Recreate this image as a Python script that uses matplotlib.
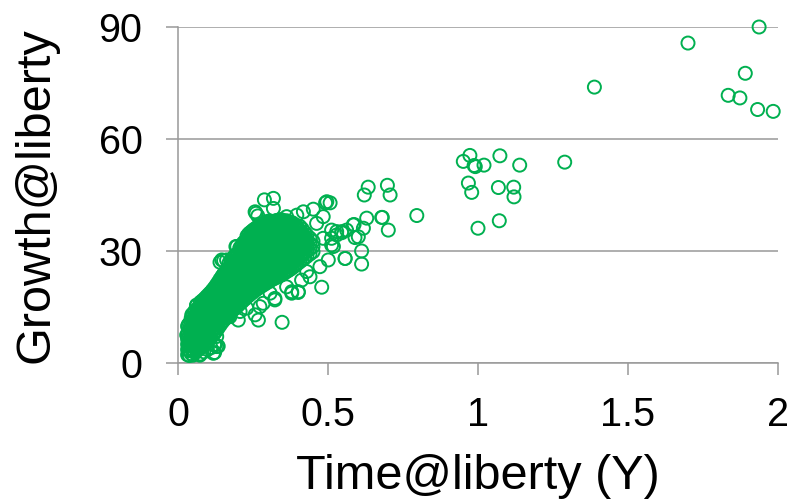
import matplotlib
matplotlib.use("Agg")
import matplotlib.pyplot as plt
import numpy as np

plt.rcParams['font.family'] = ['Liberation Sans', 'DejaVu Sans']

# ---- data ----
# dense core: columns of points (x value, list of y values)
core_cols = [
    (0.032, [2.2, 3.6, 5.0, 6.4, 7.6, 9.8]),
    (0.038, [2.0, 3.3, 4.7, 6.1, 7.5, 8.8, 10.6]),
    (0.044, [2.5, 3.9, 5.3, 6.6, 8.0, 9.4, 10.9, 12.0]),
    (0.050, [2.1, 3.4, 4.8, 6.2, 7.5, 8.9, 10.3, 11.7, 13.2]),
    (0.056, [2.8, 4.2, 5.6, 7.0, 8.3, 9.7, 11.1, 12.5, 13.9]),
    (0.062, [3.2, 4.6, 6.0, 7.4, 8.8, 10.1, 11.5, 12.9, 14.3, 15.4]),
    (0.068, [3.6, 5.0, 6.4, 7.8, 9.2, 10.6, 12.0, 13.4, 14.8]),
    (0.074, [2.4, 4.0, 5.4, 6.8, 8.2, 9.6, 11.0, 12.4, 13.8, 15.2, 16.2]),
    (0.080, [4.4, 5.8, 7.2, 8.6, 10.0, 11.4, 12.8, 14.2, 15.6, 16.6]),
    (0.086, [3.0, 4.8, 6.2, 7.6, 9.0, 10.4, 11.8, 13.2, 14.6, 16.0, 17.0]),
    (0.092, [5.3, 6.7, 8.1, 9.5, 10.9, 12.3, 13.7, 15.1, 16.5, 17.5]),
    (0.098, [3.6, 5.7, 7.1, 8.5, 9.9, 11.3, 12.7, 14.1, 15.5, 16.9, 18.0]),
    (0.104, [6.2, 7.6, 9.0, 10.4, 11.8, 13.2, 14.6, 16.0, 17.4, 18.5]),
    (0.110, [4.1, 6.8, 8.2, 9.6, 11.0, 12.4, 13.8, 15.2, 16.6, 18.0, 19.0]),
    (0.116, [7.4, 8.8, 10.2, 11.6, 13.0, 14.4, 15.8, 17.2, 18.6, 19.6]),
    (0.122, [2.8, 5.0, 8.0, 9.4, 10.8, 12.2, 13.6, 15.0, 16.4, 17.8, 19.2, 20.2]),
    (0.128, [8.7, 10.1, 11.5, 12.9, 14.3, 15.7, 17.1, 18.5, 19.9, 20.9]),
    (0.134, [4.5, 9.4, 10.8, 12.2, 13.6, 15.0, 16.4, 17.8, 19.2, 20.6, 21.6]),
    (0.140, [10.1, 11.5, 12.9, 14.3, 15.7, 17.1, 18.5, 19.9, 21.3, 22.4, 27.0]),
    (0.146, [10.8, 12.2, 13.6, 15.0, 16.4, 17.8, 19.2, 20.6, 22.0, 23.1]),
    (0.152, [11.4, 12.8, 14.2, 15.6, 17.0, 18.4, 19.8, 21.2, 22.6, 23.8, 27.4]),
    (0.158, [12.0, 13.4, 14.8, 16.2, 17.6, 19.0, 20.4, 21.8, 23.2, 24.4]),
    (0.164, [12.6, 14.0, 15.4, 16.8, 18.2, 19.6, 21.0, 22.4, 23.8, 25.0]),
    (0.170, [13.1, 14.5, 15.9, 17.3, 18.7, 20.1, 21.5, 22.9, 24.3, 25.6, 26.8]),
    (0.176, [13.6, 15.0, 16.4, 17.8, 19.2, 20.6, 22.0, 23.4, 24.8, 26.2, 27.4]),
    (0.182, [14.1, 15.5, 16.9, 18.3, 19.7, 21.1, 22.5, 23.9, 25.3, 26.7, 28.0]),
    (0.188, [14.6, 16.0, 17.4, 18.8, 20.2, 21.6, 23.0, 24.4, 25.8, 27.2, 28.6]),
    (0.194, [15.0, 16.4, 17.8, 19.2, 20.6, 22.0, 23.4, 24.8, 26.2, 27.6, 29.0]),
    (0.200, [15.4, 16.8, 18.2, 19.6, 21.0, 22.4, 23.8, 25.2, 26.6, 28.0, 29.4]),
    (0.206, [15.9, 17.3, 18.7, 20.1, 21.5, 22.9, 24.3, 25.7, 27.1, 28.5, 29.9, 30.8]),
    (0.212, [16.3, 17.7, 19.1, 20.5, 21.9, 23.3, 24.7, 26.1, 27.5, 28.9, 30.3, 31.5]),
    (0.218, [16.8, 18.2, 19.6, 21.0, 22.4, 23.8, 25.2, 26.6, 28.0, 29.4, 30.8, 32.2]),
    (0.224, [17.2, 18.6, 20.0, 21.4, 22.8, 24.2, 25.6, 27.0, 28.4, 29.8, 31.2, 32.6]),
    (0.230, [17.7, 19.1, 20.5, 21.9, 23.3, 24.7, 26.1, 27.5, 28.9, 30.3, 31.7, 33.1, 34.0]),
    (0.236, [18.1, 19.5, 20.9, 22.3, 23.7, 25.1, 26.5, 27.9, 29.3, 30.7, 32.1, 33.5, 34.6]),
    (0.242, [18.5, 19.9, 21.3, 22.7, 24.1, 25.5, 26.9, 28.3, 29.7, 31.1, 32.5, 33.9, 35.0]),
    (0.248, [18.9, 20.3, 21.7, 23.1, 24.5, 25.9, 27.3, 28.7, 30.1, 31.5, 32.9, 34.3, 35.4]),
    (0.254, [19.3, 20.7, 22.1, 23.5, 24.9, 26.3, 27.7, 29.1, 30.5, 31.9, 33.3, 34.7, 35.8]),
    (0.260, [19.6, 21.0, 22.4, 23.8, 25.2, 26.6, 28.0, 29.4, 30.8, 32.2, 33.6, 35.0, 36.1]),
    (0.266, [20.0, 21.4, 22.8, 24.2, 25.6, 27.0, 28.4, 29.8, 31.2, 32.6, 34.0, 35.4, 36.5]),
    (0.272, [20.3, 21.7, 23.1, 24.5, 25.9, 27.3, 28.7, 30.1, 31.5, 32.9, 34.3, 35.7, 36.8]),
    (0.278, [20.6, 22.0, 23.4, 24.8, 26.2, 27.6, 29.0, 30.4, 31.8, 33.2, 34.6, 36.0, 37.0]),
    (0.284, [20.9, 22.3, 23.7, 25.1, 26.5, 27.9, 29.3, 30.7, 32.1, 33.5, 34.9, 36.3, 37.3]),
    (0.290, [21.2, 22.6, 24.0, 25.4, 26.8, 28.2, 29.6, 31.0, 32.4, 33.8, 35.2, 36.6, 37.6]),
    (0.296, [21.5, 22.9, 24.3, 25.7, 27.1, 28.5, 29.9, 31.3, 32.7, 34.1, 35.5, 36.9, 37.8]),
    (0.302, [21.8, 23.2, 24.6, 26.0, 27.4, 28.8, 30.2, 31.6, 33.0, 34.4, 35.8, 37.2, 38.0]),
    (0.308, [22.1, 23.5, 24.9, 26.3, 27.7, 29.1, 30.5, 31.9, 33.3, 34.7, 36.1, 37.5]),
    (0.314, [22.4, 23.8, 25.2, 26.6, 28.0, 29.4, 30.8, 32.2, 33.6, 35.0, 36.4, 37.7]),
    (0.320, [22.6, 24.0, 25.4, 26.8, 28.2, 29.6, 31.0, 32.4, 33.8, 35.2, 36.6, 37.9]),
    (0.326, [22.9, 24.3, 25.7, 27.1, 28.5, 29.9, 31.3, 32.7, 34.1, 35.5, 36.9, 38.1]),
    (0.332, [23.1, 24.5, 25.9, 27.3, 28.7, 30.1, 31.5, 32.9, 34.3, 35.7, 37.1, 38.2]),
    (0.338, [23.4, 24.8, 26.2, 27.6, 29.0, 30.4, 31.8, 33.2, 34.6, 36.0, 37.4, 38.3]),
    (0.344, [23.6, 25.0, 26.4, 27.8, 29.2, 30.6, 32.0, 33.4, 34.8, 36.2, 37.6, 38.4]),
    (0.350, [23.9, 25.3, 26.7, 28.1, 29.5, 30.9, 32.3, 33.7, 35.1, 36.5, 37.9]),
    (0.356, [24.2, 25.6, 27.0, 28.4, 29.8, 31.2, 32.6, 34.0, 35.4, 36.8, 38.0]),
    (0.362, [24.5, 25.9, 27.3, 28.7, 30.1, 31.5, 32.9, 34.3, 35.7, 37.1, 38.1]),
    (0.368, [24.8, 26.2, 27.6, 29.0, 30.4, 31.8, 33.2, 34.6, 36.0, 37.4]),
    (0.374, [25.1, 26.5, 27.9, 29.3, 30.7, 32.1, 33.5, 34.9, 36.3, 37.5]),
    (0.380, [25.5, 26.9, 28.3, 29.7, 31.1, 32.5, 33.9, 35.3, 36.7, 37.6]),
    (0.386, [25.8, 27.2, 28.6, 30.0, 31.4, 32.8, 34.2, 35.6, 36.9]),
    (0.392, [26.2, 27.6, 29.0, 30.4, 31.8, 33.2, 34.6, 36.0, 37.0]),
    (0.398, [26.6, 28.0, 29.4, 30.8, 32.2, 33.6, 35.0, 36.4]),
    (0.406, [27.1, 28.5, 29.9, 31.3, 32.7, 34.1, 35.5, 36.6]),
    (0.414, [27.6, 29.0, 30.4, 31.8, 33.2, 34.6, 35.9]),
    (0.422, [28.1, 29.5, 30.9, 32.3, 33.7, 35.0]),
    (0.430, [28.6, 30.0, 31.4, 32.8, 34.2]),
    (0.440, [29.2, 30.6, 32.0, 33.4]),
    (0.450, [29.8, 31.2, 32.6]),
]

# scattered points around the core and the sparse tail
sparse_x = [
    0.288, 0.318, 0.318, 0.260, 0.193, 0.162, 0.362, 0.418, 0.451, 0.492,
    0.484, 0.396, 0.462, 0.512, 0.529, 0.546, 0.512, 0.484, 0.557, 0.501,
    0.473, 0.479, 0.440, 0.429, 0.401, 0.379, 0.412, 0.362, 0.323, 0.307,
    0.284, 0.268, 0.257, 0.201, 0.229, 0.173, 0.207, 0.123, 0.118, 0.073,
    0.129, 0.347, 0.062, 0.034, 0.029, 0.257, 0.266, 0.496, 0.146, 0.196,
    0.240, 0.046, 0.151, 0.168, 0.129, 0.273, 0.379, 0.401, 0.323,
    0.507, 0.518, 0.512, 0.529, 0.546, 0.562, 0.587, 0.590, 0.601, 0.618,
    0.612, 0.612, 0.557, 0.584, 0.629, 0.634, 0.621, 0.698, 0.707, 0.679,
    0.701, 0.681, 0.796,
    0.973, 0.951, 0.987, 0.991, 1.020, 1.073, 1.139, 1.289, 0.968, 0.979,
    1.068, 1.119, 1.120, 1.000, 1.071,
    1.388, 1.700, 1.937, 1.891, 1.834, 1.873, 1.932, 1.984,
]
sparse_y = [
    43.7, 44.1, 41.4, 40.1, 31.2, 27.6, 39.2, 40.5, 41.2, 42.9,
    39.2, 39.6, 37.4, 35.6, 34.3, 35.2, 31.6, 33.4, 28.0, 27.6,
    25.8, 20.3, 23.1, 24.5, 18.9, 18.7, 22.2, 20.4, 17.3, 18.7,
    16.0, 11.5, 12.9, 11.5, 14.7, 12.4, 13.8, 4.8, 2.6, 2.1,
    7.1, 10.9, 15.5, 10.2, 7.5, 40.5, 39.4, 43.2, 27.6, 31.2,
    32.9, 12.9, 23.6, 12.4, 4.4, 15.1, 19.1, 19.1, 16.9,
    42.9, 31.2, 33.4, 35.2, 34.9, 35.6, 37.1, 33.6, 33.8, 36.1,
    30.0, 26.5, 28.0, 37.0, 38.8, 47.1, 45.0, 47.6, 45.0, 39.0,
    35.6, 39.0, 39.5,
    55.6, 54.0, 52.9, 52.6, 53.0, 55.5, 53.0, 53.8, 48.2, 45.7,
    47.0, 47.1, 44.5, 36.1, 38.1,
    73.9, 85.7, 90.0, 77.6, 71.7, 71.0, 67.9, 67.4,
]

x_ticks = [0, 0.5, 1, 1.5, 2]
x_tick_labels = ['0', '0.5', '1', '1.5', '2']
y_ticks = [0, 30, 60, 90]
y_tick_labels = ['0', '30', '60', '90']

# build point arrays
xs = []
ys = []
for cx, cys in core_cols:
    for cy in cys:
        xs.append(cx)
        ys.append(cy)
xs += sparse_x
ys += sparse_y

GREEN = '#00B050'
GRAY = '#999999'

fig = plt.figure(figsize=(7.89, 5.01), dpi=100)
ax = fig.add_axes([178/789, 1-363/501, 600/789, 336/501])

ax.scatter(xs, ys, s=88, facecolors='none', edgecolors=GREEN,
           linewidths=1.4, clip_on=False, zorder=3)

ax.set_xlim(0, 2)
ax.set_ylim(0, 90)
ax.set_xticks(x_ticks)
ax.set_xticklabels(x_tick_labels)
ax.set_yticks(y_ticks)
ax.set_yticklabels(y_tick_labels)

ax.grid(axis='y', color=GRAY, linewidth=1.1)
ax.set_axisbelow(True)
for s in ['top', 'right']:
    ax.spines[s].set_visible(False)
for s in ['left', 'bottom']:
    ax.spines[s].set_color(GRAY)
    ax.spines[s].set_linewidth(1.1)

ax.tick_params(axis='both', direction='out', length=8.6, width=1.1,
               color=GRAY, labelsize=28.5, labelcolor='black')
ax.tick_params(axis='y', pad=17)
ax.tick_params(axis='x', pad=15)

ax.set_xlabel('Time@liberty (Y)', fontsize=35, va='baseline')
ax.set_ylabel('Growth@liberty', fontsize=35, va='baseline')
ax.xaxis.set_label_coords(0.5, (363-489)/336)
ax.yaxis.set_label_coords((48-178)/600, 0.5)

fig.savefig('out.png', dpi=100)
